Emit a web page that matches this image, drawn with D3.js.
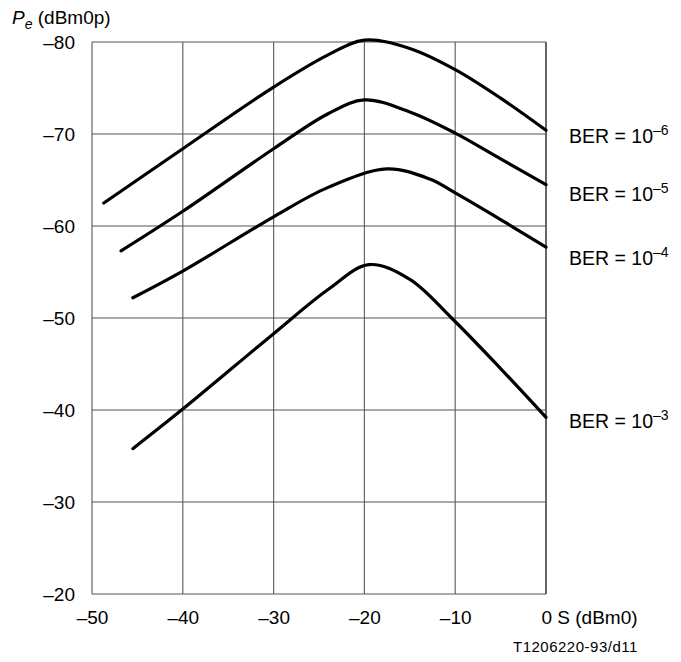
<!DOCTYPE html>
<html>
<head>
<meta charset="utf-8">
<script src="https://cdn.jsdelivr.net/npm/d3@7"></script>
<style>
  body { margin: 0; background: #fff; }
  text { font-family: "Liberation Sans", Arial, sans-serif; fill: #000; }
</style>
</head>
<body>
<div id="chart"></div>
<script>
// S (dBm0) on x, Pe (dBm0p) on y
var xTicks = [-50, -40, -30, -20, -10, 0];
var yTicks = [-80, -70, -60, -50, -40, -30, -20];

var ber6 = [[-48.7,-62.5],[-40,-68.4],[-30,-75.1],[-24,-78.6],[-20,-80.2],[-15,-79.3],[-10,-77.0],[-5,-73.9],[0,-70.4]];
var ber5 = [[-46.8,-57.3],[-40,-61.6],[-30,-68.4],[-24,-72.2],[-20,-73.7],[-15,-72.4],[-10,-70.1],[-5,-67.3],[0,-64.5]];
var ber4 = [[-45.5,-52.2],[-40,-55.1],[-30,-61.0],[-24,-64.2],[-17.5,-66.2],[-12.8,-65.1],[-10,-63.6],[-5,-60.7],[0,-57.7]];
var ber3 = [[-45.5,-35.8],[-40,-40.1],[-30,-48.3],[-24,-53.1],[-19.5,-55.8],[-15,-54.2],[-10.4,-50],[-5,-44.5],[0,-39.2]];

var series = [ber6, ber5, ber4, ber3];
var berExp = ["\u20136", "\u20135", "\u20134", "\u20133"];
var berLabelY = [-69.0, -62.7, -55.8, -38.0];

var svg = d3.select("#chart").append("svg")
    .attr("width", 681)
    .attr("height", 662),
    margin = {top: 42, right: 135, bottom: 68, left: 92},
    width = 681 - margin.left - margin.right,
    height = 662 - margin.top - margin.bottom,
    g = svg.append("g").attr("transform", "translate(" + margin.left + "," + margin.top + ")");

var x = d3.scaleLinear().domain([-50, 0]).range([0, width]);
var y = d3.scaleLinear().domain([-80, -20]).range([0, height]);

function dash(v) { return String(v).replace("-", "\u2013"); }

// grid
g.selectAll(".vgrid").data(xTicks).enter().append("line")
    .attr("x1", function(d) { return x(d); }).attr("x2", function(d) { return x(d); })
    .attr("y1", 0).attr("y2", height)
    .attr("stroke", function(d) { return d === 0 ? "#000" : "#666"; })
    .attr("stroke-width", 1.2);

g.selectAll(".hgrid").data(yTicks).enter().append("line")
    .attr("y1", function(d) { return y(d); }).attr("y2", function(d) { return y(d); })
    .attr("x1", 0).attr("x2", width)
    .attr("stroke", "#555")
    .attr("stroke-width", 1.2);

// axes
var xAxis = g.append("g")
    .attr("transform", "translate(0," + height + ")")
    .call(d3.axisBottom(x).tickValues(xTicks).tickSize(0).tickPadding(17)
      .tickFormat(function(d) { return d === 0 ? "0 S (dBm0)" : dash(d); }));
xAxis.select(".domain").remove();
xAxis.selectAll("text").attr("font-size", 19).attr("fill", "#000")
    .attr("dy", "0.71em")
    .filter(function(d) { return d === 0; })
    .attr("text-anchor", "start").attr("dx", -5);

var yAxis = g.append("g")
    .call(d3.axisLeft(y).tickValues(yTicks).tickSize(0).tickPadding(17)
      .tickFormat(dash));
yAxis.select(".domain").remove();
yAxis.selectAll("text").attr("font-size", 19).attr("fill", "#000");

// curves
var line = d3.line()
    .x(function(d) { return x(d[0]); })
    .y(function(d) { return y(d[1]); })
    .curve(d3.curveCatmullRom.alpha(0.5));

g.selectAll(".curve").data(series).enter().append("path")
    .attr("fill", "none")
    .attr("stroke", "#000")
    .attr("stroke-width", 3.2)
    .attr("stroke-linecap", "round")
    .attr("d", line);

// BER labels
series.forEach(function(s, i) {
  var t = g.append("text")
      .attr("x", width + 23)
      .attr("y", y(berLabelY[i]))
      .attr("font-size", 19.5);
  t.append("tspan").text("BER = 10");
  t.append("tspan").attr("font-size", 14).attr("dy", -8).text(berExp[i]);
});

// y title
var title = svg.append("text").attr("x", 12).attr("y", 24).attr("font-size", 19);
title.append("tspan").attr("font-style", "italic").text("P");
title.append("tspan").attr("font-style", "italic").attr("font-size", 14).attr("dy", 5).text("e");
title.append("tspan").attr("dy", -5).text(" (dBm0p)");

svg.append("text")
    .attr("x", 513).attr("y", 652)
    .attr("font-size", 15)
    .attr("letter-spacing", 0.5)
    .text("T1206220-93/d11");
</script>
</body>
</html>
